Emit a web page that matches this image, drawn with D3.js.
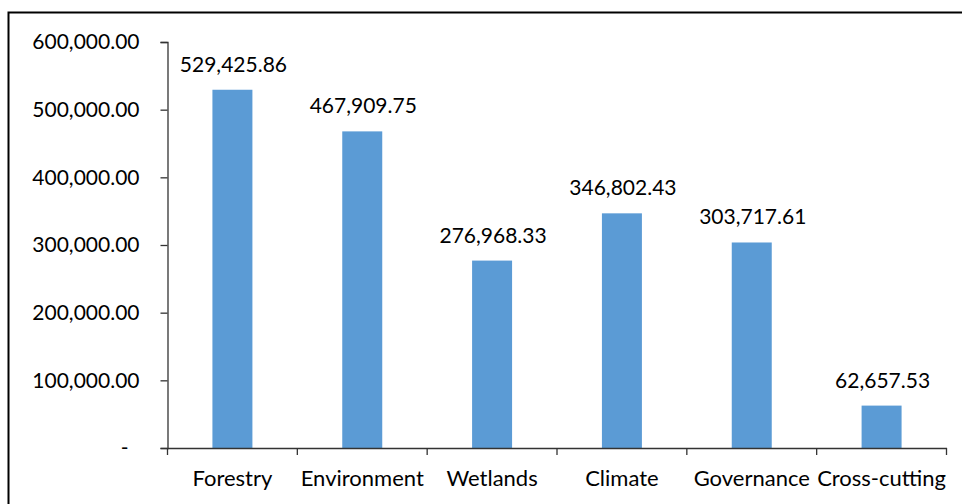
<!DOCTYPE html>
<html><head><meta charset="utf-8">
<script src="https://cdn.jsdelivr.net/npm/d3@7"></script>
<style>html,body{margin:0;padding:0;background:#fff;overflow:hidden}</style>
</head><body>
<svg id="c" width="962" height="504"></svg>
<script>
const categories = ["Forestry","Environment","Wetlands","Climate","Governance","Cross-cutting"];
const values = [529425.86, 467909.75, 276968.33, 346802.43, 303717.61, 62657.53];
const yTicks = [0, 100000, 200000, 300000, 400000, 500000, 600000];

(function(){
const FONT = "Lato, 'Open Sans', sans-serif";
const FS = 21;
const svg = d3.select("#c");
svg.append("rect").attr("x", 8.5).attr("y", 12.5).attr("width", 965).attr("height", 520)
  .attr("fill", "#fff").attr("stroke", "#000").attr("stroke-width", 2);

const pL = 167.5, pR = 946.5, pT = 42, pB = 448;
const x = d3.scaleBand().domain(categories).range([pL, pR]).paddingInner(0.692).paddingOuter(0.346);
const y = d3.scaleLinear().domain([0, 600000]).range([pB, pT]);
const fmt = d3.format(",.2f");

svg.append("g").selectAll("rect").data(values).join("rect")
  .attr("x", (d,i) => x(categories[i]))
  .attr("y", d => y(d))
  .attr("width", x.bandwidth())
  .attr("height", d => y(0) - y(d))
  .attr("fill", "#5B9BD5");

svg.append("g").selectAll("text").data(values).join("text")
  .attr("x", (d,i) => x(categories[i]) + x.bandwidth()/2 + 1)
  .attr("y", d => y(d) - 18)
  .attr("text-anchor", "middle")
  .attr("font-family", FONT).attr("font-size", FS).attr("fill", "#000")
  .text(d => fmt(d));

const yAxis = svg.append("g").attr("transform", `translate(${pL},0)`)
  .call(d3.axisLeft(y).tickValues(yTicks).tickSize(7).tickPadding(21)
    .tickFormat(d => d === 0 ? "-" : fmt(d)));
yAxis.select(".domain").attr("stroke", "#333").attr("stroke-width", 1.3);
yAxis.selectAll(".tick line").attr("stroke", "#333").attr("stroke-width", 1.3);
yAxis.selectAll("text").attr("font-family", FONT).attr("font-size", FS).attr("fill", "#000")
  .attr("dx", d => d === 0 ? -11 : 0);

const xAxis = svg.append("g").attr("transform", `translate(0,${pB})`)
  .call(d3.axisBottom(x).tickSize(0).tickPadding(0));
xAxis.select(".domain").attr("stroke", "#333").attr("stroke-width", 1.3);
xAxis.selectAll("text").attr("font-family", FONT).attr("font-size", 22).attr("fill", "#000")
  .attr("y", 38).attr("dy", 0);
const bounds = categories.map(c => x(c) - x.step()*x.paddingInner()/2).concat([x(categories[categories.length-1]) + x.bandwidth() + x.step()*x.paddingInner()/2]);
xAxis.selectAll("line.b").data(bounds).join("line").attr("class","b")
  .attr("x1", d => d).attr("x2", d => d).attr("y1", 0).attr("y2", 7)
  .attr("stroke", "#333").attr("stroke-width", 1.3);
})();
</script>
</body></html>
